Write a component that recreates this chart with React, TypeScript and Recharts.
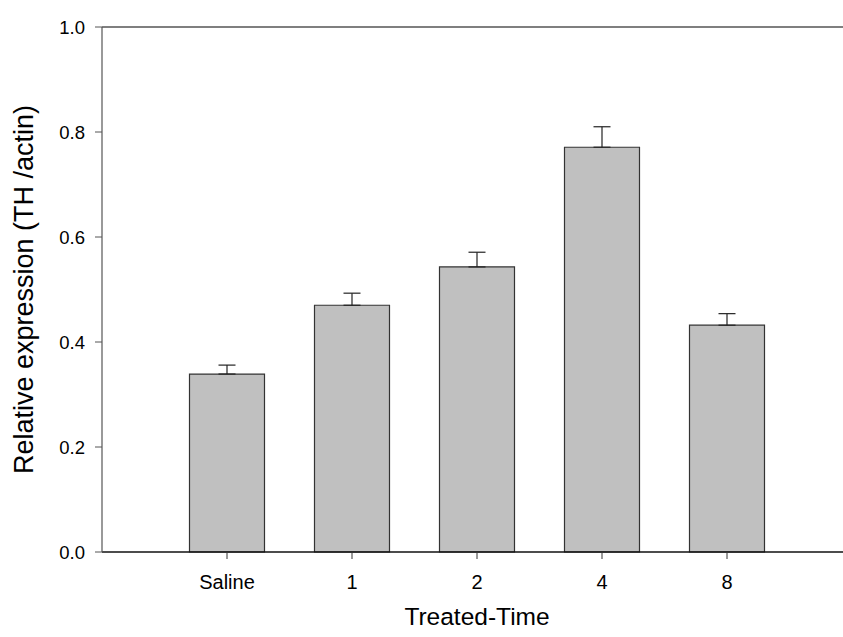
import React from 'react';
import { ComposedChart, Bar, ErrorBar, XAxis, YAxis, ReferenceLine } from 'recharts';

// TH/actin relative expression by treatment time
const categories = ['Saline', '1', '2', '4', '8'];
const expression = [0.339, 0.470, 0.543, 0.771, 0.432];
const sem = [0.017, 0.023, 0.028, 0.039, 0.022];
const yTicks = [0, 0.2, 0.4, 0.6, 0.8, 1.0];

const data = categories.map((name, i) => ({
  pos: i + 1,
  name,
  value: expression[i],
  err: [0, sem[i]],
}));

const FONT = '"Liberation Sans", Arial, sans-serif';

export default function App() {
  return (
    <div
      style={{
        position: 'absolute',
        left: 0,
        top: 0,
        width: 843,
        height: 637,
        overflow: 'hidden',
        background: '#fff',
        fontFamily: FONT,
      }}
    >
      <ComposedChart
        width={880}
        height={637}
        data={data}
        margin={{ top: 27, right: 28, left: 0, bottom: 0 }}
      >
        <XAxis
          dataKey="pos"
          type="number"
          domain={[0, 6]}
          ticks={[1, 2, 3, 4, 5]}
          tickFormatter={(v: number) => categories[v - 1]}
          height={85}
          tickSize={7}
          tickMargin={16}
          axisLine={{ stroke: '#111', strokeWidth: 1.6 }}
          tickLine={{ stroke: '#333', strokeWidth: 1 }}
          tick={{ fill: '#000', fontSize: 20, fontFamily: FONT }}
          label={{
            value: 'Treated-Time',
            position: 'insideBottom',
            offset: 12,
            fill: '#000',
            fontSize: 24.5,
            fontFamily: FONT,
          }}
        />
        <YAxis
          type="number"
          domain={[0, 1]}
          ticks={yTicks}
          tickFormatter={(v: number) => v.toFixed(1)}
          width={102}
          tickSize={7}
          tickMargin={10}
          axisLine={{ stroke: '#555', strokeWidth: 1.2 }}
          tickLine={{ stroke: '#555', strokeWidth: 1 }}
          tick={{ fill: '#000', fontSize: 18.5, fontFamily: FONT }}
          label={{
            value: 'Relative expression (TH /actin)',
            angle: -90,
            position: 'insideLeft',
            offset: 23,
            fill: '#000',
            fontSize: 27,
            fontFamily: FONT,
            style: { textAnchor: 'middle' },
          }}
        />
        <ReferenceLine y={1} stroke="#555" strokeWidth={1.4} />
        <Bar
          dataKey="value"
          barSize={75}
          fill="#c0c0c0"
          stroke="#333"
          strokeWidth={1.2}
          isAnimationActive={false}
        >
          <ErrorBar
            dataKey="err"
            direction="y"
            width={8.5}
            stroke="#222"
            strokeWidth={1.2}
            isAnimationActive={false}
          />
        </Bar>
      </ComposedChart>
    </div>
  );
}
